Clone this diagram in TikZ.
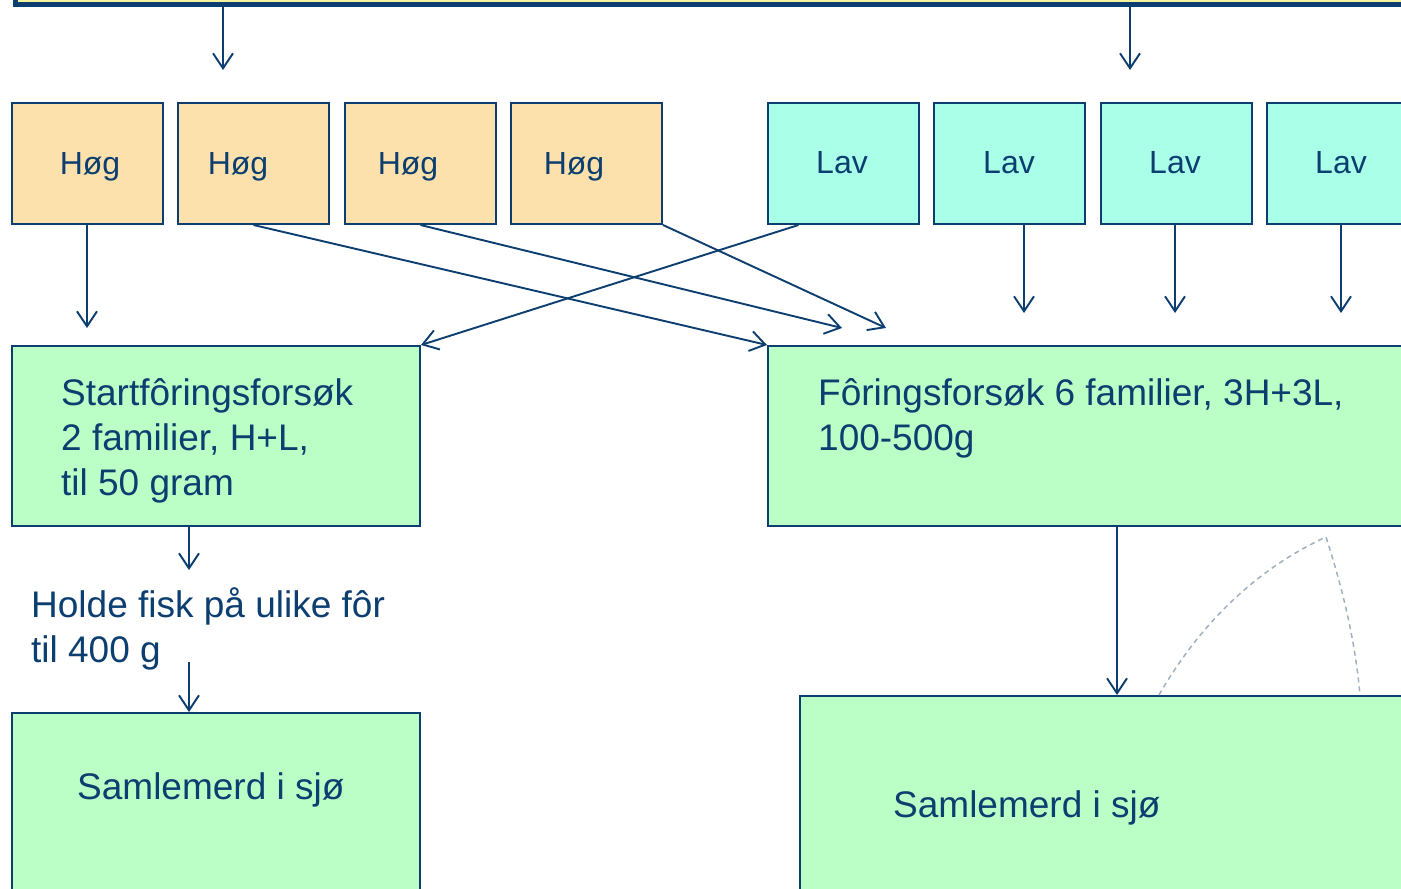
\documentclass[tikz,border=0pt]{standalone}
\usepackage{fontspec}
\setmainfont{Liberation Sans}
\usetikzlibrary{arrows.meta}
\definecolor{navy}{RGB}{12,62,112}
\definecolor{barfill}{RGB}{245,245,158}
\definecolor{hogfill}{RGB}{252,225,172}
\definecolor{lavfill}{RGB}{170,255,232}
\definecolor{grnfill}{RGB}{187,255,199}
\definecolor{arcgray}{RGB}{160,176,192}
\tikzset{
  box/.style={draw=navy, line width=2pt, inner sep=0pt, anchor=north west},
  hog/.style={box, fill=hogfill, minimum width=151pt, minimum height=121pt},
  lav/.style={box, fill=lavfill, minimum width=151pt, minimum height=121pt},
  grn/.style={box, fill=grnfill},
  small/.style={text=navy, inner sep=0pt, anchor=base, font=\fontsize{32}{38}\selectfont},
  big/.style={text=navy, inner sep=0pt, anchor=base west, align=left, font=\fontsize{37}{45}\selectfont},
  arr/.style={draw=navy, line width=1.9pt, -{Straight Barb[length=15pt,width=20pt,line width=1.9pt]}},
}
\begin{document}
\begin{tikzpicture}[x=1pt,y=-1pt]
\useasboundingbox (0,0) rectangle (1401,889);
\clip (0,0) rectangle (1401,889);
\fill[white] (0,0) rectangle (1401,889);
% top bar
\node[draw=navy, line width=5pt, fill=barfill, minimum width=1450pt, minimum height=70pt, anchor=south west, inner sep=0pt] (bar) at (12.5,6.5) {};
% Hog boxes
\node[hog] (h1) at (11,102) {};
\node[hog] (h2) at (177,102) {};
\node[hog] (h3) at (344,102) {};
\node[hog] (h4) at (510,102) {};
\node[small] (th1) at (90,174.5) {Høg};
\node[small] (th2) at (238,174.5) {Høg};
\node[small] (th3) at (408,174.5) {Høg};
\node[small] (th4) at (574,174.5) {Høg};
% Lav boxes
\node[lav] (l1) at (767,102) {};
\node[lav] (l2) at (933,102) {};
\node[lav] (l3) at (1100,102) {};
\node[lav] (l4) at (1266,102) {};
\node[small] (tl1) at (842,173.5) {Lav};
\node[small] (tl2) at (1009,173.5) {Lav};
\node[small] (tl3) at (1175,173.5) {Lav};
\node[small] (tl4) at (1341,173.5) {Lav};
% green boxes
\node[grn, minimum width=408pt, minimum height=180pt] (s) at (11,345) {};
\node[grn, minimum width=660pt, minimum height=180pt] (f) at (767,345) {};
\node[grn, minimum width=408pt, minimum height=200pt] (sb) at (11,712) {};
\node[grn, minimum width=640pt, minimum height=200pt] (fb) at (799,695) {};
\node[big] (ts) at (61,495) {Startfôringsforsøk\\2 familier, H+L,\\til 50 gram};
\node[big] (tf) at (818,450) {Fôringsforsøk 6 familier, 3H+3L,\\100-500g};
\node[big] (th) at (31,662) {Holde fisk på ulike fôr\\til 400 g};
\node[big] (tsb) at (77,799) {Samlemerd i sjø};
\node[big] (tfb) at (893,817) {Samlemerd i sjø};
% free ends
\coordinate (e0) at (223,70);
\coordinate (e00) at (1130,70);
\coordinate (e1) at (87,328);
\coordinate (e2) at (1024,313);
\coordinate (e3) at (1175,313);
\coordinate (e4) at (1341,313);
\coordinate (e5) at (842,328);
\coordinate (e6) at (886,328);
\coordinate (e7) at (189,570);
\coordinate (e8) at (189,662);
% connectors
\draw[arr] (bar.south -| e0) -- (e0);
\draw[arr] (bar.south -| e00) -- (e00);
\draw[arr] (h1.south -| e1) -- (e1);
\draw[arr] (l2.south -| e2) -- (e2);
\draw[arr] (l3.south -| e3) -- (e3);
\draw[arr] (l4.south -| e4) -- (e4);
\draw[arr] (h2.south) -- (f.north west);
\draw[arr] (h3.south) -- (e5);
\draw[arr] (h4.south east) -- (e6);
\draw[arr] ([xshift=-45pt]l1.south) -- (s.north east);
\draw[arr] (s.south -| e7) -- (e7);
\draw[arr] (e8) -- (sb.north -| e8);
\draw[arr] (f.south -| 1117,0) -- (fb.north -| 1117,0);
% dashed arc
\draw[arcgray, line width=1.5pt, dash pattern=on 5pt off 4pt]
  (1159,695) .. controls (1205,615) and (1265,565) .. (1326,537)
  .. controls (1343,590) and (1355,640) .. (1360,695);
\end{tikzpicture}
\end{document}
